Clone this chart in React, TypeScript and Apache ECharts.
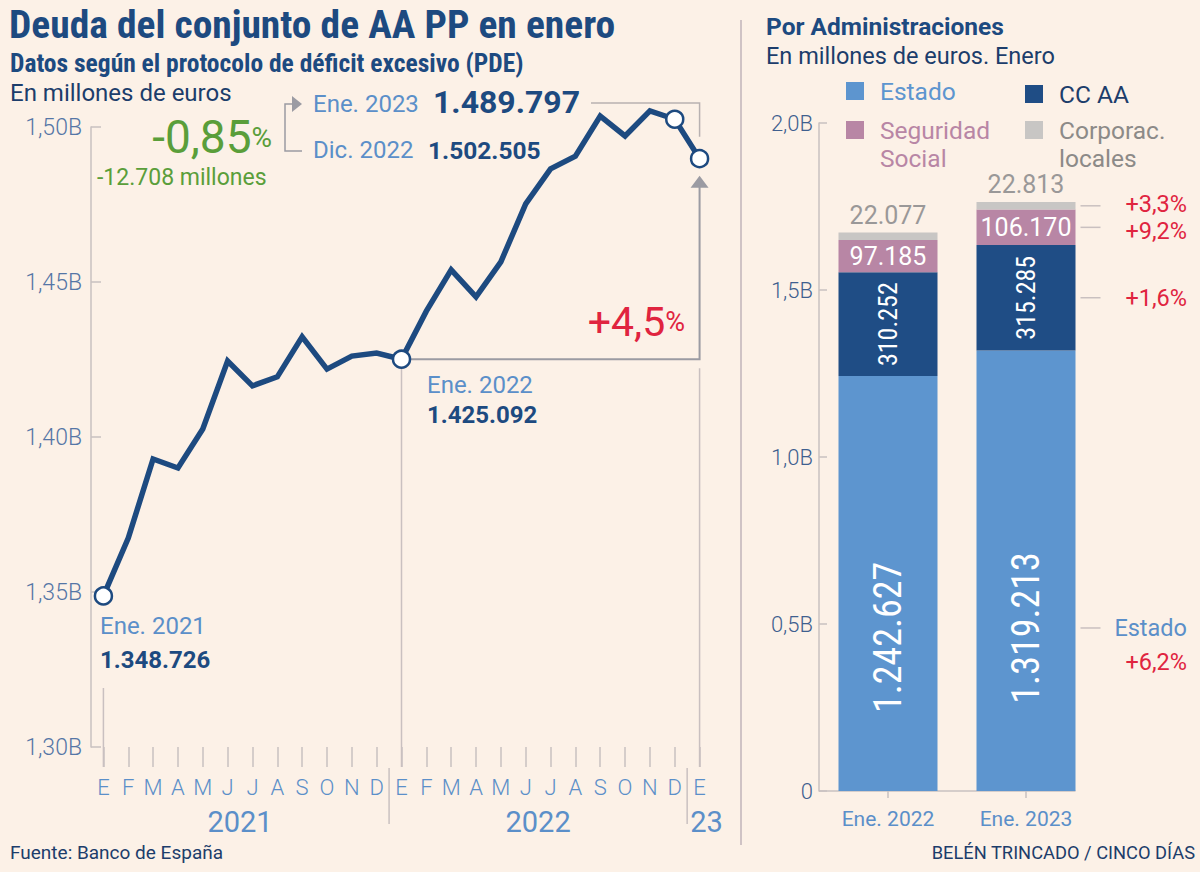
import React, { useEffect, useRef } from "react";
import * as echarts from "echarts";

// ---------- DATA ----------
const monthKeys = [
  "2021-01", "2021-02", "2021-03", "2021-04", "2021-05", "2021-06", "2021-07", "2021-08", "2021-09", "2021-10", "2021-11", "2021-12",
  "2022-01", "2022-02", "2022-03", "2022-04", "2022-05", "2022-06", "2022-07", "2022-08", "2022-09", "2022-10", "2022-11", "2022-12",
  "2023-01",
];
const monthLetters = ["E", "F", "M", "A", "M", "J", "J", "A", "S", "O", "N", "D", "E", "F", "M", "A", "M", "J", "J", "A", "S", "O", "N", "D", "E"];
const debtValues = [
  1348726, 1367400, 1392900, 1390000, 1402600, 1424500, 1416500, 1419400, 1432300, 1421900, 1426100, 1427100,
  1425092, 1440600, 1453900, 1445200, 1456500, 1475200, 1486500, 1490600, 1503500, 1497100, 1505200, 1502505,
  1489797,
];
const highlighted = [0, 12, 23, 24];
const yearGroups = [
  { label: "2021", from: 0, to: 11 },
  { label: "2022", from: 12, to: 23 },
  { label: "23", from: 24, to: 24 },
];
const leftTicks = { min: 1300000, max: 1500000, interval: 50000 };

const barCategories = ["Ene. 2022", "Ene. 2023"];
const estado = [1242627, 1319213];
const ccaa = [310252, 315285];
const segSocial = [97185, 106170];
const corpLocales = [22077, 22813];
const rightTicks = { min: 0, max: 2000000, interval: 500000 };

// ---------- STYLE ----------
const FC = "'Roboto Condensed',Roboto,sans-serif";
const FR = "Roboto,'Roboto Condensed',sans-serif";
const BG = "#fcf1e7";
const NAVY = "#1d4a80";
const DARK = "#1c3d6b";
const LBLUE = "#5b8fc9";
const GREEN = "#5a9e3a";
const RED = "#e0243f";
const GREY = "#b8b1b1";
const AXIS = "#c9c0c0";
const C_ESTADO = "#5d95cf";
const C_CCAA = "#1f4d85";
const C_SS = "#b886a5";
const C_CORP = "#c8c6c4";

const fmt = (v: number) => String(Math.round(v)).replace(/\B(?=(\d{3})+(?!\d))/g, ".");
const pct = (a: number, b: number, d: number) => {
  const r = (b / a - 1) * 100;
  return (r >= 0 ? "+" : "") + r.toFixed(d).replace(".", ",");
};

function txt(x: number, y: number, text: string, size: number, fill: string, opts: any = {}) {
  const align = opts.align || "left";
  const v = opts.valign || "middle";
  return {
    type: "text",
    x,
    y,
    silent: true,
    style: {
      text,
      fill,
      fontSize: size,
      fontFamily: opts.font || FR,
      fontWeight: opts.bold ? "bold" : opts.weight || "normal",
      lineHeight: opts.lh,
      align,
      textAlign: align,
      verticalAlign: v,
      textVerticalAlign: v,
      rich: opts.rich,
    },
  };
}
const line = (x1: number, y1: number, x2: number, y2: number, stroke = GREY, w = 1.5) => ({
  type: "line",
  silent: true,
  shape: { x1, y1, x2, y2 },
  style: { stroke, lineWidth: w },
});
const poly = (points: number[][], stroke = GREY, w = 1.5) => ({
  type: "polyline",
  silent: true,
  shape: { points },
  style: { stroke, lineWidth: w, fill: "none" },
});
const tri = (points: number[][], fill = "#9b9ba3") => ({
  type: "polygon",
  silent: true,
  shape: { points },
  style: { fill },
});

export default function App() {
  const ref = useRef<HTMLDivElement>(null);

  useEffect(() => {
    const chart = echarts.init(ref.current!, null, { renderer: "svg" });

    const lineData = debtValues.map((v, i) =>
      highlighted.includes(i)
        ? { value: v, symbol: "circle", symbolSize: 17, itemStyle: { color: "#ffffff", borderColor: NAVY, borderWidth: 2.5 } }
        : { value: v }
    );

    const option: any = {
      animation: false,
      backgroundColor: BG,
      textStyle: { fontFamily: FR },
      grid: [
        { left: 91, top: 127, width: 621, height: 620 },
        { left: 819, top: 123, width: 276, height: 668 },
      ],
      xAxis: [
        {
          gridIndex: 0,
          type: "category",
          data: monthKeys,
          boundaryGap: true,
          axisLine: { show: false },
          axisTick: { show: true, alignWithLabel: true, length: 20, lineStyle: { color: AXIS, width: 1.5 } },
          axisLabel: {
            interval: 0,
            margin: 29,
            color: LBLUE,
            fontSize: 22,
            fontWeight: 300,
            fontFamily: FR,
            formatter: (_v: string, i: number) => monthLetters[i],
          },
          splitLine: { show: false },
        },
        {
          gridIndex: 1,
          type: "category",
          data: barCategories,
          axisLine: { show: false },
          axisTick: { show: true, alignWithLabel: true, length: 7, lineStyle: { color: AXIS, width: 1.5 } },
          axisLabel: { color: LBLUE, fontSize: 21, margin: 17, fontFamily: FR },
        },
      ],
      yAxis: [
        {
          gridIndex: 0,
          type: "value",
          min: leftTicks.min,
          max: leftTicks.max,
          interval: leftTicks.interval,
          axisLine: { show: true, lineStyle: { color: AXIS, width: 1.5 } },
          axisTick: { show: true, inside: true, length: 10, lineStyle: { color: AXIS, width: 1.5 } },
          splitLine: { show: false },
          axisLabel: {
            color: "#5576a6",
            fontSize: 23,
            fontWeight: 300,
            margin: 9,
            fontFamily: FR,
            formatter: (v: number) => (v / 1e6).toFixed(2).replace(".", ",") + "B",
          },
        },
        {
          gridIndex: 1,
          type: "value",
          min: rightTicks.min,
          max: rightTicks.max,
          interval: rightTicks.interval,
          axisLine: { show: true, lineStyle: { color: AXIS, width: 1.5 } },
          axisTick: { show: true, inside: true, length: 8, lineStyle: { color: AXIS, width: 1.5 } },
          splitLine: { show: false },
          axisLabel: {
            color: "#3f5f8f",
            fontSize: 22,
            fontWeight: 300,
            margin: 6,
            fontFamily: FR,
            formatter: (v: number) => (v === 0 ? "0" : (v / 1e6).toFixed(1).replace(".", ",") + "B"),
          },
        },
      ],
      series: [
        {
          type: "line",
          xAxisIndex: 0,
          yAxisIndex: 0,
          data: lineData,
          symbol: "none",
          showSymbol: true,
          clip: false,
          z: 5,
          lineStyle: { color: NAVY, width: 5.5, join: "miter" },
          itemStyle: { color: NAVY },
        },
        {
          name: "Estado",
          type: "bar",
          xAxisIndex: 1,
          yAxisIndex: 1,
          stack: "total",
          barWidth: 99,
          data: estado,
          itemStyle: { color: C_ESTADO },
          label: {
            show: true,
            position: ["50%", "63%"],
            rotate: 90,
            align: "center",
            verticalAlign: "middle",
            color: "#ffffff",
            fontSize: 38,
            fontFamily: FC,
            formatter: (p: any) => fmt(p.value),
          },
        },
        {
          name: "CC AA",
          type: "bar",
          xAxisIndex: 1,
          yAxisIndex: 1,
          stack: "total",
          barWidth: 99,
          data: ccaa,
          itemStyle: { color: C_CCAA },
          label: {
            show: true,
            position: "inside",
            rotate: 90,
            color: "#ffffff",
            fontSize: 26,
            fontFamily: FC,
            formatter: (p: any) => fmt(p.value),
          },
        },
        {
          name: "Seguridad Social",
          type: "bar",
          xAxisIndex: 1,
          yAxisIndex: 1,
          stack: "total",
          barWidth: 99,
          data: segSocial,
          itemStyle: { color: C_SS },
          label: {
            show: true,
            position: "inside",
            color: "#ffffff",
            fontSize: 25,
            fontFamily: FR,
            formatter: (p: any) => fmt(p.value),
          },
        },
        {
          name: "Corporac. locales",
          type: "bar",
          xAxisIndex: 1,
          yAxisIndex: 1,
          stack: "total",
          barWidth: 99,
          data: corpLocales,
          itemStyle: { color: C_CORP },
          label: {
            show: true,
            position: "top",
            distance: 5,
            color: "#9a9898",
            fontSize: 25,
            fontFamily: FR,
            formatter: (p: any) => fmt(p.value),
          },
        },
      ],
    };
    chart.setOption(option);

    const P = (g: number, x: number, y: number) => chart.convertToPixel({ gridIndex: g } as any, [x, y]) as number[];
    const p0 = P(0, 0, debtValues[0]);
    const p12 = P(0, 12, debtValues[12]);
    const p24 = P(0, 24, debtValues[24]);
    const tickBottom = P(0, 0, leftTicks.min)[1] + 20;

    const g: any[] = [];
    // panel separator
    g.push(line(741, 20, 741, 845, "#cfc3c5", 2));

    // Titles
    g.push(txt(9, 24, "Deuda del conjunto de AA PP en enero", 39.5, NAVY, { bold: true, font: FC, lh: 40 }));
    g.push(txt(10, 63, "Datos según el protocolo de déficit excesivo (PDE)", 25.5, NAVY, { bold: true, font: FC, lh: 26 }));
    g.push(txt(10, 93, "En millones de euros", 24, DARK, { lh: 26 }));

    // Jan 2021
    g.push(line(p0[0], 688, p0[0], tickBottom, AXIS, 1.5));
    g.push(txt(100, 626, "Ene. 2021", 24, LBLUE));
    g.push(txt(100, 660, fmt(debtValues[0]), 24, NAVY, { bold: true }));

    // Jan 2022
    g.push(line(p12[0], p12[1] + 9, p12[0], tickBottom, AXIS, 1.5));
    g.push(txt(427, 385, "Ene. 2022", 24, LBLUE));
    g.push(txt(427, 415, fmt(debtValues[12]), 24, NAVY, { bold: true }));

    // +4,5% bracket
    g.push(poly([[p12[0] + 8, p12[1]], [p24[0], p12[1]], [p24[0], p24[1] + 28]], "#9b9ba3", 2));
    g.push(tri([[p24[0], p24[1] + 17], [p24[0] - 9, p24[1] + 29], [p24[0] + 9, p24[1] + 29]]));
    g.push(line(p24[0], p12[1] + 9, p24[0], tickBottom, AXIS, 1.5));
    g.push(
      txt(685, 322, `{a|${pct(debtValues[12], debtValues[24], 1)}}{b|%}`, 40, RED, {
        align: "right",
        rich: { a: { fontSize: 41, fill: RED, color: RED, fontFamily: FR }, b: { fontSize: 27, fill: RED, color: RED, fontFamily: FR } },
      })
    );

    // Top annotation
    g.push(txt(313, 104, "Ene. 2023", 24, LBLUE));
    g.push(txt(433, 102, fmt(debtValues[24]), 32, NAVY, { bold: true }));
    g.push(txt(313, 150, "Dic. 2022", 24, LBLUE));
    g.push(txt(428, 150, fmt(debtValues[23]), 24.5, NAVY, { bold: true }));
    g.push(poly([[591, 103], [p24[0], 103], [p24[0], p24[1] - 22]], GREY, 1.5));
    g.push(poly([[293, 104], [285, 104], [285, 151], [302, 151]], "#9b9ba3", 1.5));
    g.push(tri([[292, 96], [292, 112], [302, 104]]));
    g.push(
      txt(272, 137, `{a|${pct(debtValues[23], debtValues[24], 2)}}{b|%}`, 46, GREEN, {
        align: "right",
        rich: { a: { fontSize: 46, fill: GREEN, color: GREEN, fontFamily: FR }, b: { fontSize: 28, fill: GREEN, color: GREEN, fontFamily: FR } },
      })
    );
    g.push(txt(97, 177, `${fmt(debtValues[24] - debtValues[23])} millones`, 23, GREEN));

    // year labels + separators
    yearGroups.forEach((yg, k) => {
      const xa = P(0, yg.from, leftTicks.min)[0];
      const xb = P(0, yg.to, leftTicks.min)[0];
      const cx = (xa + xb) / 2 + (k === 2 ? 7 : 0);
      g.push(txt(cx, 822, yg.label, 29, LBLUE, { align: "center" }));
      if (k > 0) {
        const prev = P(0, yg.from - 1, leftTicks.min)[0];
        const sx = (prev + xa) / 2;
        g.push(line(sx, 768, sx, 824, AXIS, 1.5));
      }
    });

    // footer
    g.push(txt(10, 852, "Fuente: Banco de España", 19, DARK));
    g.push(txt(1195, 852, "BELÉN TRINCADO / CINCO DÍAS", 18.3, DARK, { align: "right" }));

    // Right panel titles
    g.push(txt(766, 26, "Por Administraciones", 24.5, NAVY, { bold: true }));
    g.push(txt(766, 56, "En millones de euros. Enero", 23.5, DARK));

    // Legend
    const legend = [
      { x: 846, y: 91, color: C_ESTADO, lines: ["Estado"], tc: C_ESTADO },
      { x: 1025, y: 94, color: C_CCAA, lines: ["CC AA"], tc: DARK },
      { x: 846, y: 130, color: C_SS, lines: ["Seguridad", "Social"], tc: C_SS },
      { x: 1025, y: 130, color: C_CORP, lines: ["Corporac.", "locales"], tc: "#8c8a88" },
    ];
    legend.forEach((l) => {
      g.push({ type: "rect", silent: true, shape: { x: l.x, y: l.y - 9, width: 18, height: 18 }, style: { fill: l.color } });
      l.lines.forEach((s, j) => g.push(txt(l.x + 34, l.y + j * 28, s, 24.5, l.tc)));
    });

    // right x-axis line
    const b0 = P(1, 0, 0);
    const b1 = P(1, 1, 0);
    g.push(line(819, b0[1], b1[0] + 49.5, b0[1], AXIS, 1.5));

    // right annotations (2023 bar)
    const rx1 = b1[0] + 49.5;
    const notes = [
      { v: estado[1] * 0.37, dy: 0, label: "Estado", color: LBLUE, extra: pct(estado[0], estado[1], 1) + "%" },
      { v: estado[1] + ccaa[1] / 2, dy: 0, label: pct(ccaa[0], ccaa[1], 1) + "%", color: RED },
      { v: estado[1] + ccaa[1] + segSocial[1] / 2, dy: 4, label: pct(segSocial[0], segSocial[1], 1) + "%", color: RED },
      { v: estado[1] + ccaa[1] + segSocial[1] + corpLocales[1] / 2, dy: -2, label: pct(corpLocales[0], corpLocales[1], 1) + "%", color: RED },
    ];
    notes.forEach((n) => {
      const y = P(1, 1, n.v)[1];
      g.push(line(rx1 + 5, y, rx1 + 25, y, AXIS, 1.5));
      g.push(txt(1187, y + n.dy, n.label, 23.5, n.color, { align: "right" }));
      if (n.extra) g.push(txt(1187, y + 34, n.extra, 23.5, RED, { align: "right" }));
    });

    chart.setOption({ graphic: g });
    return () => chart.dispose();
  }, []);

  return <div ref={ref} style={{ position: "fixed", left: 0, top: 0, width: 1200, height: 872 }} />;
}
